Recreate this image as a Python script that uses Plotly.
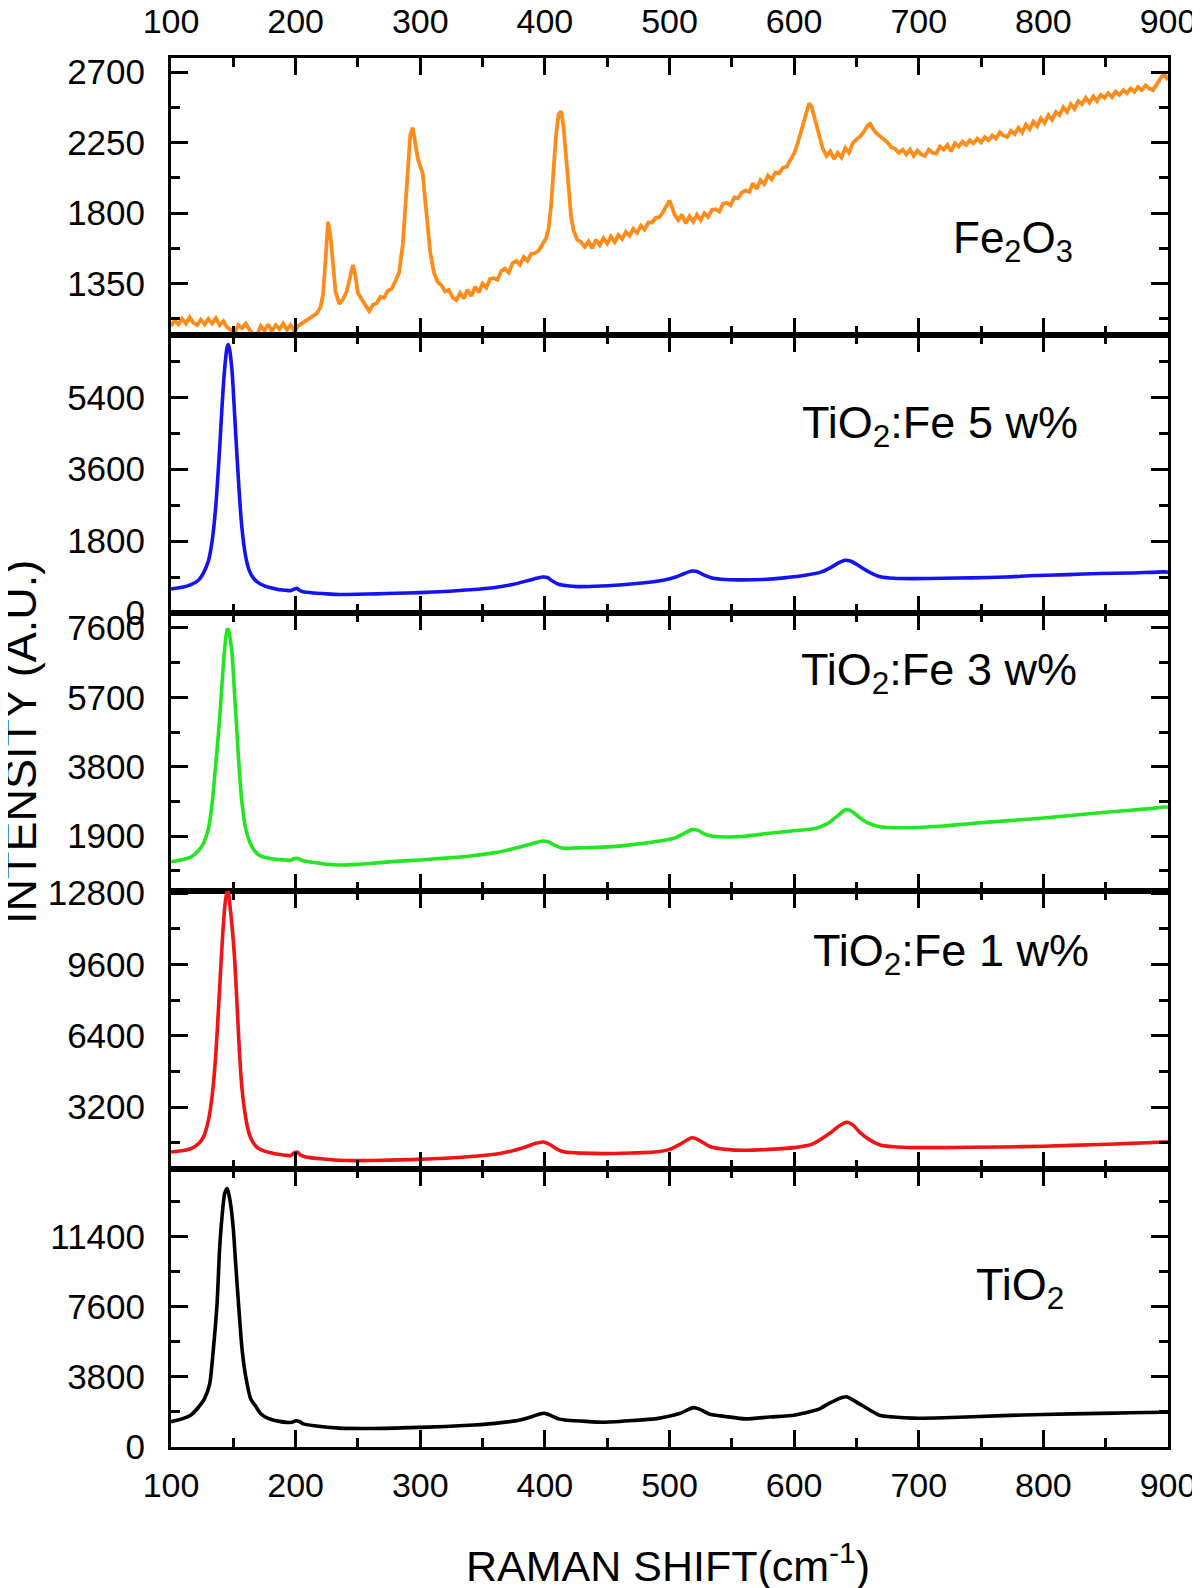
import plotly.graph_objects as go

# ---------------- data ----------------
fe2o3_x = [100,103,106,109,112,115,118,121,124,127,130,133,136,139,142,145,148,151,154,157,160,163,166,169,172,175,178,181,184,187,190,193,196,199,202,205,208,211,214,217,220,222,224,226,228,230,232,235,238,241,243,245,246,248,250,253,256,259,262,265,268,271,274,277,280,283,286,288,290,292,294,296,298,300,302,304,306,308,311,314,317,320,323,326,329,332,335,338,341,344,347,350,353,356,359,362,365,368,371,374,377,380,383,386,389,392,395,398,401,403,405,407,409,411,413,415,417,419,421,423,426,429,432,435,438,441,444,447,450,453,456,459,462,465,468,471,474,477,480,483,486,489,492,495,498,500,502,504,507,510,513,516,519,522,525,528,531,534,537,540,543,546,549,552,555,558,561,564,567,570,573,576,579,582,585,588,591,594,597,600,603,606,609,612,614,616,618,620,623,626,629,632,635,638,641,644,647,650,653,656,659,661,663,666,669,672,675,678,681,684,687,690,693,696,699,702,705,708,711,714,717,720,723,726,729,732,735,738,741,744,747,750,753,756,759,762,765,768,771,774,777,780,783,786,789,792,795,798,801,804,807,810,813,816,819,822,825,828,831,834,837,840,843,846,849,852,855,858,861,864,867,870,873,876,879,882,885,888,891,894,897,900]
fe2o3_y = [1080,1115,1090,1125,1095,1135,1100,1085,1120,1090,1125,1095,1130,1085,1110,1070,1055,1035,1085,1065,1095,1055,1030,1020,1080,1050,1090,1045,1085,1060,1095,1055,1085,1045,1080,1095,1110,1125,1140,1160,1200,1280,1500,1745,1650,1440,1300,1220,1250,1300,1360,1440,1470,1400,1290,1250,1210,1175,1215,1225,1265,1260,1305,1315,1365,1420,1600,1850,2100,2300,2345,2250,2150,2100,2050,1880,1700,1550,1420,1360,1340,1300,1310,1260,1245,1290,1255,1310,1270,1330,1295,1350,1325,1380,1385,1375,1430,1445,1420,1480,1495,1470,1520,1495,1540,1545,1560,1600,1640,1700,1850,2080,2300,2430,2450,2350,2150,1950,1780,1690,1630,1615,1585,1620,1575,1630,1595,1640,1605,1650,1615,1660,1635,1680,1655,1700,1675,1720,1695,1740,1740,1770,1775,1810,1850,1880,1840,1790,1755,1790,1735,1780,1745,1790,1755,1800,1775,1820,1825,1810,1860,1865,1850,1900,1895,1930,1945,1935,1990,1955,2010,1985,2040,2015,2060,2055,2090,2095,2140,2180,2250,2330,2430,2500,2480,2420,2350,2280,2210,2165,2195,2145,2185,2155,2215,2185,2245,2270,2290,2320,2360,2370,2340,2310,2290,2270,2250,2220,2210,2185,2205,2175,2205,2165,2200,2175,2165,2205,2185,2180,2225,2205,2235,2195,2245,2225,2255,2235,2265,2245,2275,2250,2285,2265,2295,2275,2315,2295,2285,2325,2305,2345,2315,2365,2335,2385,2355,2405,2375,2425,2395,2445,2425,2475,2445,2495,2465,2515,2495,2535,2505,2545,2515,2555,2535,2565,2540,2575,2555,2585,2565,2595,2575,2605,2585,2615,2595,2585,2625,2660,2690,2650]

fe5_x = [100,110,116,122,126,130,133,136,139,141,143,145,146,147,149,151,153,155,157,160,163,166,170,175,180,186,192,196,199,201,203,206,215,225,235,250,265,280,300,320,340,360,375,385,392,398,402,406,411,418,426,440,460,478,495,505,512,518,522,527,535,545,560,575,592,610,622,630,636,641,645,650,656,663,670,680,695,720,742,770,793,820,845,870,897,900]
fe5_y = [600,650,710,820,1000,1300,1800,2700,4100,5200,6100,6650,6720,6600,6050,5000,3900,2900,2100,1400,1050,880,760,680,630,590,570,560,600,620,570,530,500,480,465,470,480,495,510,540,580,640,720,800,860,900,890,800,720,680,660,670,700,750,820,900,990,1050,1040,960,870,840,830,840,880,950,1030,1150,1260,1320,1300,1220,1100,980,900,870,860,870,880,900,940,960,990,1000,1030,1020]

fe3_x = [100,110,116,122,126,130,133,136,139,141,143,145,146,147,149,151,153,155,157,160,163,166,170,175,180,186,192,196,199,202,206,215,225,235,250,265,280,300,320,340,360,375,385,392,398,403,408,415,426,447,465,478,495,505,512,518,523,528,535,548,560,580,600,617,627,634,640,643,647,653,660,670,685,700,720,742,770,793,820,845,870,887,897,900]
fe3_y = [1200,1260,1330,1500,1700,2100,2800,3900,5100,6100,7000,7550,7560,7400,6900,5800,4700,3600,2800,2100,1750,1550,1400,1320,1290,1260,1250,1240,1290,1290,1230,1180,1130,1110,1130,1170,1210,1250,1300,1360,1450,1560,1650,1720,1770,1740,1650,1570,1580,1600,1650,1700,1780,1860,1980,2080,2060,1960,1900,1880,1900,1980,2050,2110,2250,2430,2600,2630,2560,2400,2250,2150,2130,2140,2180,2250,2320,2380,2460,2540,2610,2660,2700,2690]

fe1_x = [100,110,116,122,126,130,133,136,139,141,143,145,146,147,149,151,153,155,157,160,163,166,170,175,180,186,192,196,199,201,204,208,220,235,260,292,320,343,360,375,385,392,399,404,410,416,430,447,470,488,500,509,514,518,522,527,533,545,560,580,600,615,628,636,642,647,653,660,669,680,695,720,767,800,845,870,897,900]
fe1_y = [1180,1250,1330,1550,1850,2600,3700,5600,8500,10500,12100,12900,12850,12400,11300,9900,7800,5600,4000,2700,1950,1600,1350,1220,1150,1080,1040,1020,1150,1180,1050,960,880,810,800,840,900,990,1080,1250,1420,1560,1630,1520,1300,1180,1130,1110,1140,1180,1300,1550,1720,1820,1760,1600,1420,1300,1260,1300,1380,1550,2000,2350,2520,2400,2050,1750,1500,1420,1380,1380,1410,1440,1520,1570,1630,1630]

tio2_x = [100,110,116,122,127,131,134,137,139,141,143,145,146,148,150,152,155,157,160,164,168,172,178,186,193,197,200,203,206,215,235,260,292,320,343,360,380,390,396,400,405,411,416,430,447,470,488,503,509,514,519,524,532,545,561,580,600,607,620,628,636,642,647,654,662,669,680,695,720,767,800,845,870,897,900]
tio2_y = [1370,1550,1730,2150,2630,3400,5300,7800,10700,12500,13700,13980,13800,13050,11800,9800,7000,5300,3800,2600,2200,1800,1550,1400,1330,1340,1420,1380,1250,1150,1020,1000,1050,1110,1190,1280,1460,1650,1790,1820,1700,1520,1460,1400,1340,1430,1520,1720,1830,1990,2130,2050,1780,1650,1520,1620,1720,1820,2050,2360,2620,2720,2550,2270,1950,1700,1620,1560,1580,1700,1760,1820,1850,1880,1880]

labels = ["Fe<sub>2</sub>O<sub>3</sub>", "TiO<sub>2</sub>:Fe 5 w%", "TiO<sub>2</sub>:Fe 3 w%",
          "TiO<sub>2</sub>:Fe 1 w%", "TiO<sub>2</sub>"]
colors = ["#FF8C1A", "#1414F0", "#22E622", "#F01414", "#000000"]
series_x = [fe2o3_x, fe5_x, fe3_x, fe1_x, tio2_x]
series_y = [fe2o3_y, fe5_y, fe3_y, fe1_y, tio2_y]
y_ranges = [[1022, 2790], [0, 6960], [400, 8010], [420, 12890], [0, 15040]]
y_dticks = [450, 1800, 1900, 3200, 3800]
x_ticks = [100, 200, 300, 400, 500, 600, 700, 800, 900]

# label positions (x in data units, y as fraction of panel)
label_pos = [(776, 0.34), (717, 0.675), (716, 0.785), (726, 0.775), (781, 0.575)]

FONT = "Liberation Sans, Arial, sans-serif"

# the page body has an 8 px margin: lay the figure out 8 px inside the window
W, HT = 1192, 1580
top_px, bot_px = 50, 1439
H = bot_px - top_px
L, R = 163, 1160
bounds = [50, 327, 605, 883, 1161, 1439]
domains = [[(bot_px - bounds[i + 1]) / H, (bot_px - bounds[i]) / H] for i in range(5)]

fig = go.Figure()

for i in range(5):
    n = i + 1
    xa = "x" if n == 1 else f"x{n}"
    ya = "y" if n == 1 else f"y{n}"
    fig.add_trace(go.Scatter(
        x=series_x[i], y=series_y[i], mode="lines",
        line=dict(color=colors[i], width=3.8 if i == 0 else 3.6,
                  shape="linear" if i == 0 else "spline", smoothing=0.6),
        xaxis=xa, yaxis=ya, showlegend=False, hoverinfo="skip"))

    common_x = dict(
        range=[100, 900], tickvals=x_ticks, ticks="inside", ticklen=17, tickwidth=2.5,
        tickcolor="black", showline=True, linecolor="black", linewidth=3, mirror="ticks",
        showgrid=False, zeroline=False, automargin=False,
        minor=dict(dtick=50, tick0=100, ticks="inside", ticklen=9, tickwidth=2.5, tickcolor="black"),
        tickfont=dict(family=FONT, size=34, color="black"),
        anchor=ya,
    )
    if n == 1:
        common_x.update(side="top", showticklabels=True, ticklabelstandoff=8)
    elif n == 5:
        common_x.update(side="bottom", showticklabels=True, ticklabelstandoff=6)
    else:
        common_x.update(showticklabels=False)
    if n > 1:
        common_x["matches"] = "x"

    common_y = dict(
        range=y_ranges[i], dtick=y_dticks[i], tick0=0, tickformat="d",
        ticks="inside", ticklen=17, tickwidth=2.5,
        tickcolor="black", showline=True, linecolor="black", linewidth=3, mirror="ticks",
        showgrid=False, zeroline=False, domain=domains[i], anchor=xa, automargin=False,
        minor=dict(dtick=y_dticks[i] / 2, tick0=0, ticks="inside", ticklen=9, tickwidth=2.5,
                   tickcolor="black"),
        tickfont=dict(family=FONT, size=35, color="black"),
        ticklabelstandoff=16,
    )
    fig.layout[("xaxis" if n == 1 else f"xaxis{n}")] = common_x
    fig.layout[("yaxis" if n == 1 else f"yaxis{n}")] = common_y

    fig.add_annotation(
        text=labels[i], x=label_pos[i][0], y=label_pos[i][1],
        xref=xa, yref=f"{ya} domain", showarrow=False,
        font=dict(family=FONT, size=45 if i > 0 else 44, color="black"),
        xanchor="center", yanchor="middle")

fig.add_annotation(
    text="INTENSITY (A.U.)", textangle=-90, xref="paper", yref="paper",
    x=(12 - L) / (R - L), y=(bot_px - 734) / H, showarrow=False,
    font=dict(family=FONT, size=45, color="black"), xanchor="center", yanchor="middle")

fig.add_annotation(
    text="RAMAN SHIFT(cm<sup>-1</sup>)", xref="paper", yref="paper",
    x=(660 - L) / (R - L), y=(bot_px - 1555) / H, showarrow=False,
    font=dict(family=FONT, size=43, color="black"), xanchor="center", yanchor="middle")

fig.update_layout(
    width=W, height=HT,
    margin=dict(l=L, r=W - R, t=top_px, b=HT - bot_px, autoexpand=False),
    paper_bgcolor="white", plot_bgcolor="white",
    showlegend=False,
)

fig.write_html("out.html")
